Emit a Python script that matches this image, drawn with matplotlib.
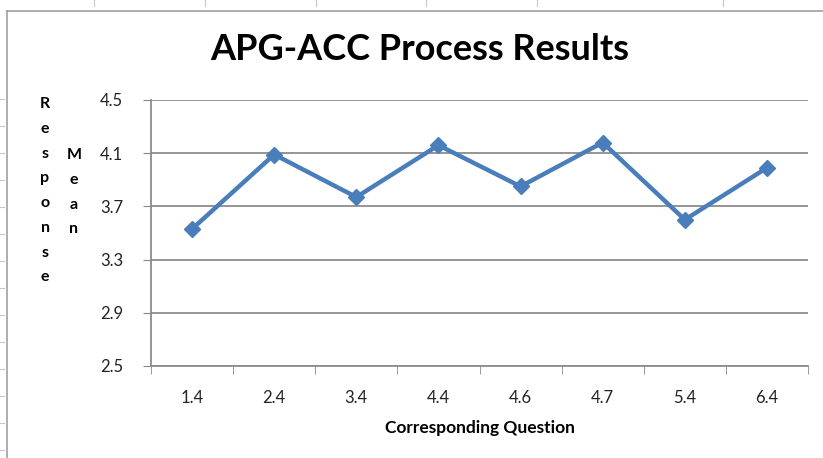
import matplotlib.pyplot as plt
from matplotlib.lines import Line2D

# data
questions = ["1.4", "2.4", "3.4", "4.4", "4.6", "4.7", "5.4", "6.4"]
response_mean = [3.53, 4.09, 3.77, 4.16, 3.85, 4.18, 3.60, 3.99]
y_ticks = [2.5, 2.9, 3.3, 3.7, 4.1, 4.5]

W, H = 823, 458
fig = plt.figure(figsize=(W / 100, H / 100), dpi=100)
fig.patch.set_facecolor("white")

# outer chart frame (Excel style)
fig.add_artist(Line2D([7 / W, 7 / W], [0, 1 - 11 / H], color="#a0a0a0", lw=1.2))
fig.add_artist(Line2D([7 / W, 1], [1 - 11 / H, 1 - 11 / H], color="#a0a0a0", lw=1.2))
for yy in range(99, 458, 27):
    fig.add_artist(Line2D([0, 4 / W], [1 - yy / H, 1 - yy / H], color="#c8c8c8", lw=0.8))
for xx in [94, 205, 316, 426, 537, 723]:
    fig.add_artist(Line2D([xx / W, xx / W], [1, 1 - 6 / H], color="#c8c8c8", lw=0.8))

ax = fig.add_axes([151 / W, 1 - 366 / H, (808 - 151) / W, (366 - 100) / H])
x = list(range(len(questions)))
ax.plot(x, response_mean, color="#4a7ebb", lw=3.2, marker="D", markersize=8,
        markerfacecolor="#4a7ebb", markeredgecolor="#4a7ebb", zorder=3)

ax.set_xlim(-0.5, len(questions) - 0.5)
ax.set_ylim(2.5, 4.5)
ax.set_yticks(y_ticks)
ax.set_yticklabels([f"{v:.1f}" for v in y_ticks], fontsize=12, color="#222222")
ax.set_xticks(x)
ax.set_xticklabels(questions, fontsize=12, color="#222222")
ax.set_xticks([i - 0.5 for i in range(len(questions) + 1)], minor=True)
ax.tick_params(axis="x", which="major", length=0, pad=17)
ax.tick_params(axis="x", which="minor", length=6, color="#888888", direction="out")
ax.tick_params(axis="y", length=6, color="#888888", direction="out", pad=14)
ax.grid(axis="y", color="#8c8c8c", lw=1.3)
ax.set_axisbelow(True)
for side in ["top", "right"]:
    ax.spines[side].set_visible(False)
for side in ["left", "bottom"]:
    ax.spines[side].set_color("#8c8c8c")
    ax.spines[side].set_linewidth(1.3)

for lab in ax.get_xticklabels() + ax.get_yticklabels():
    lab.set_family(["Lato", "DejaVu Sans"])

ax.set_xlabel("Corresponding Question", fontsize=12.5, fontweight="bold",
              family=["Lato", "DejaVu Sans"], labelpad=10)

fig.text(420 / W, 1 - 50 / H, "APG-ACC Process Results", ha="center", va="center",
         fontsize=26, fontweight="bold", family=["Lato", "DejaVu Sans"])

# stacked vertical y label
fig.text(45 / W, 1 - 97 / H, "\n".join("Response"), ha="center", va="top",
         fontsize=11.5, fontweight="bold", linespacing=1.98, family=["Lato", "DejaVu Sans"])
fig.text(74 / W, 1 - 148 / H, "\n".join("Mean"), ha="center", va="top",
         fontsize=11.5, fontweight="bold", linespacing=1.98, family=["Lato", "DejaVu Sans"])

fig.savefig("out.png", dpi=100)
